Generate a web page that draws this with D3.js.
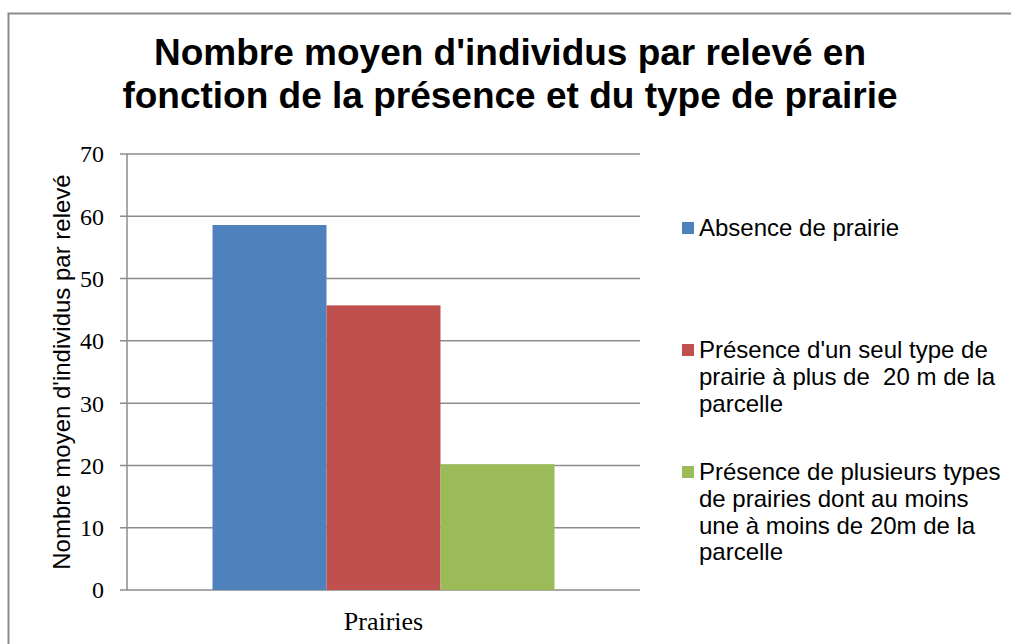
<!DOCTYPE html>
<head>
<meta charset="utf-8">
<style>
html, body { margin: 0; padding: 0; background: #fff; overflow: hidden; width: 1011px; height: 644px; }
svg { display: block; font-family: "Liberation Sans", Arial, sans-serif; }
</style>
<script src="https://d3js.org/d3.v7.min.js"></script>
</head>
<body>
<svg id="chart" width="1011" height="644"></svg>
<script>

var width = 1011;
var height = 644;

// data
var categories = ["Prairies"];
var seriesNames = [
    "Absence de prairie",
    "Présence d'un seul type de prairie à plus de  20 m de la parcelle",
    "Présence de plusieurs types de prairies dont au moins une à moins de 20m de la parcelle"
];
var seriesValues = [58.6, 45.7, 20.2];
var seriesColors = ["#4f81bd", "#c0504d", "#9bbb59"];
var legendLines = [
    ["Absence de prairie"],
    ["Présence d'un seul type de", "prairie à plus de\u00a0 20 m de la", "parcelle"],
    ["Présence de plusieurs types", "de prairies dont au moins", "une à moins de 20m de la", "parcelle"]
];
var yTicks = [0, 10, 20, 30, 40, 50, 60, 70];
var titleLines = ["Nombre moyen d'individus par relevé en", "fonction de la présence et du type de prairie"];
var yTitle = "Nombre moyen d'individus par relevé";

var plot = {left: 127, right: 640, top: 154, bottom: 590};
var gridColor = "#8c8c8c";

var svg = d3.select("#chart");

// white background
svg.append("rect")
    .attr("width", width).attr("height", height)
    .attr("fill", "#fff");

// outer frame (only top and left edges fall inside the picture)
svg.append("path")
    .attr("d", "M8.5," + height + "V13.5H" + width)
    .attr("fill", "none")
    .attr("stroke", "#8c8c8c")
    .attr("stroke-width", 2);

// title
svg.append("text")
    .attr("text-anchor", "middle")
    .attr("font-weight", "bold")
    .attr("font-size", 37)
    .attr("fill", "#000")
    .selectAll("tspan")
    .data(titleLines)
    .enter().append("tspan")
    .attr("x", 510)
    .attr("y", function(d, i) { return 65 + i * 43; })
    .text(function(d) { return d; });

var x0 = d3.scaleBand()
    .domain(categories)
    .range([plot.left, plot.right]);

var x1 = d3.scaleBand()
    .domain(d3.range(seriesValues.length))
    .range([0, x0.bandwidth()])
    .paddingOuter(0.75)
    .paddingInner(0);

var y = d3.scaleLinear()
    .domain([0, 70])
    .range([plot.bottom, plot.top]);

// gridlines
svg.append("g")
    .selectAll("line")
    .data(yTicks)
    .enter().append("line")
    .attr("x1", plot.left - 7)
    .attr("x2", plot.right)
    .attr("y1", function(d) { return y(d); })
    .attr("y2", function(d) { return y(d); })
    .attr("stroke", gridColor)
    .attr("stroke-width", 1.5);

// bars
svg.append("g")
    .selectAll("rect")
    .data(seriesValues)
    .enter().append("rect")
    .attr("x", function(d, i) { return x0(categories[0]) + x1(i); })
    .attr("y", function(d) { return y(d); })
    .attr("width", x1.bandwidth())
    .attr("height", function(d) { return y(0) - y(d); })
    .attr("fill", function(d, i) { return seriesColors[i]; });

// y axis line
svg.append("line")
    .attr("x1", plot.left).attr("x2", plot.left)
    .attr("y1", plot.top).attr("y2", plot.bottom)
    .attr("stroke", gridColor)
    .attr("stroke-width", 1.5);

// tick labels
svg.append("g")
    .attr("font-family", "'Liberation Serif', 'Times New Roman', serif")
    .attr("font-size", 24)
    .attr("text-anchor", "end")
    .selectAll("text")
    .data(yTicks)
    .enter().append("text")
    .attr("x", 104)
    .attr("y", function(d) { return y(d); })
    .attr("dy", "0.35em")
    .text(function(d) { return d; });

// category label
svg.append("text")
    .attr("font-family", "'Liberation Serif', 'Times New Roman', serif")
    .attr("font-size", 26)
    .attr("text-anchor", "middle")
    .attr("x", x0(categories[0]) + x0.bandwidth() / 2)
    .attr("y", 630)
    .text(categories[0]);

// y title
svg.append("text")
    .attr("font-size", 24)
    .attr("text-anchor", "middle")
    .attr("transform", "translate(70," + ((plot.top + plot.bottom) / 2) + ") rotate(-90)")
    .text(yTitle);

// legend
var legendTop = [228, 350, 472];
var legend = svg.append("g")
    .selectAll("g")
    .data(legendLines)
    .enter().append("g");

legend.append("rect")
    .attr("x", 682)
    .attr("y", function(d, i) { return legendTop[i] - 6; })
    .attr("width", 12)
    .attr("height", 12)
    .attr("fill", function(d, i) { return seriesColors[i]; })
    .append("title")
    .text(function(d, i) { return seriesNames[i]; });

legend.append("text")
    .attr("font-size", 24)
    .attr("fill", "#000")
    .each(function(d, i) {
        d3.select(this).selectAll("tspan")
            .data(d)
            .enter().append("tspan")
            .attr("x", 699)
            .attr("y", function(t, j) { return legendTop[i] + 8 + j * 26.8; })
            .text(function(t) { return t; });
    });

</script>
</body>
</html>
